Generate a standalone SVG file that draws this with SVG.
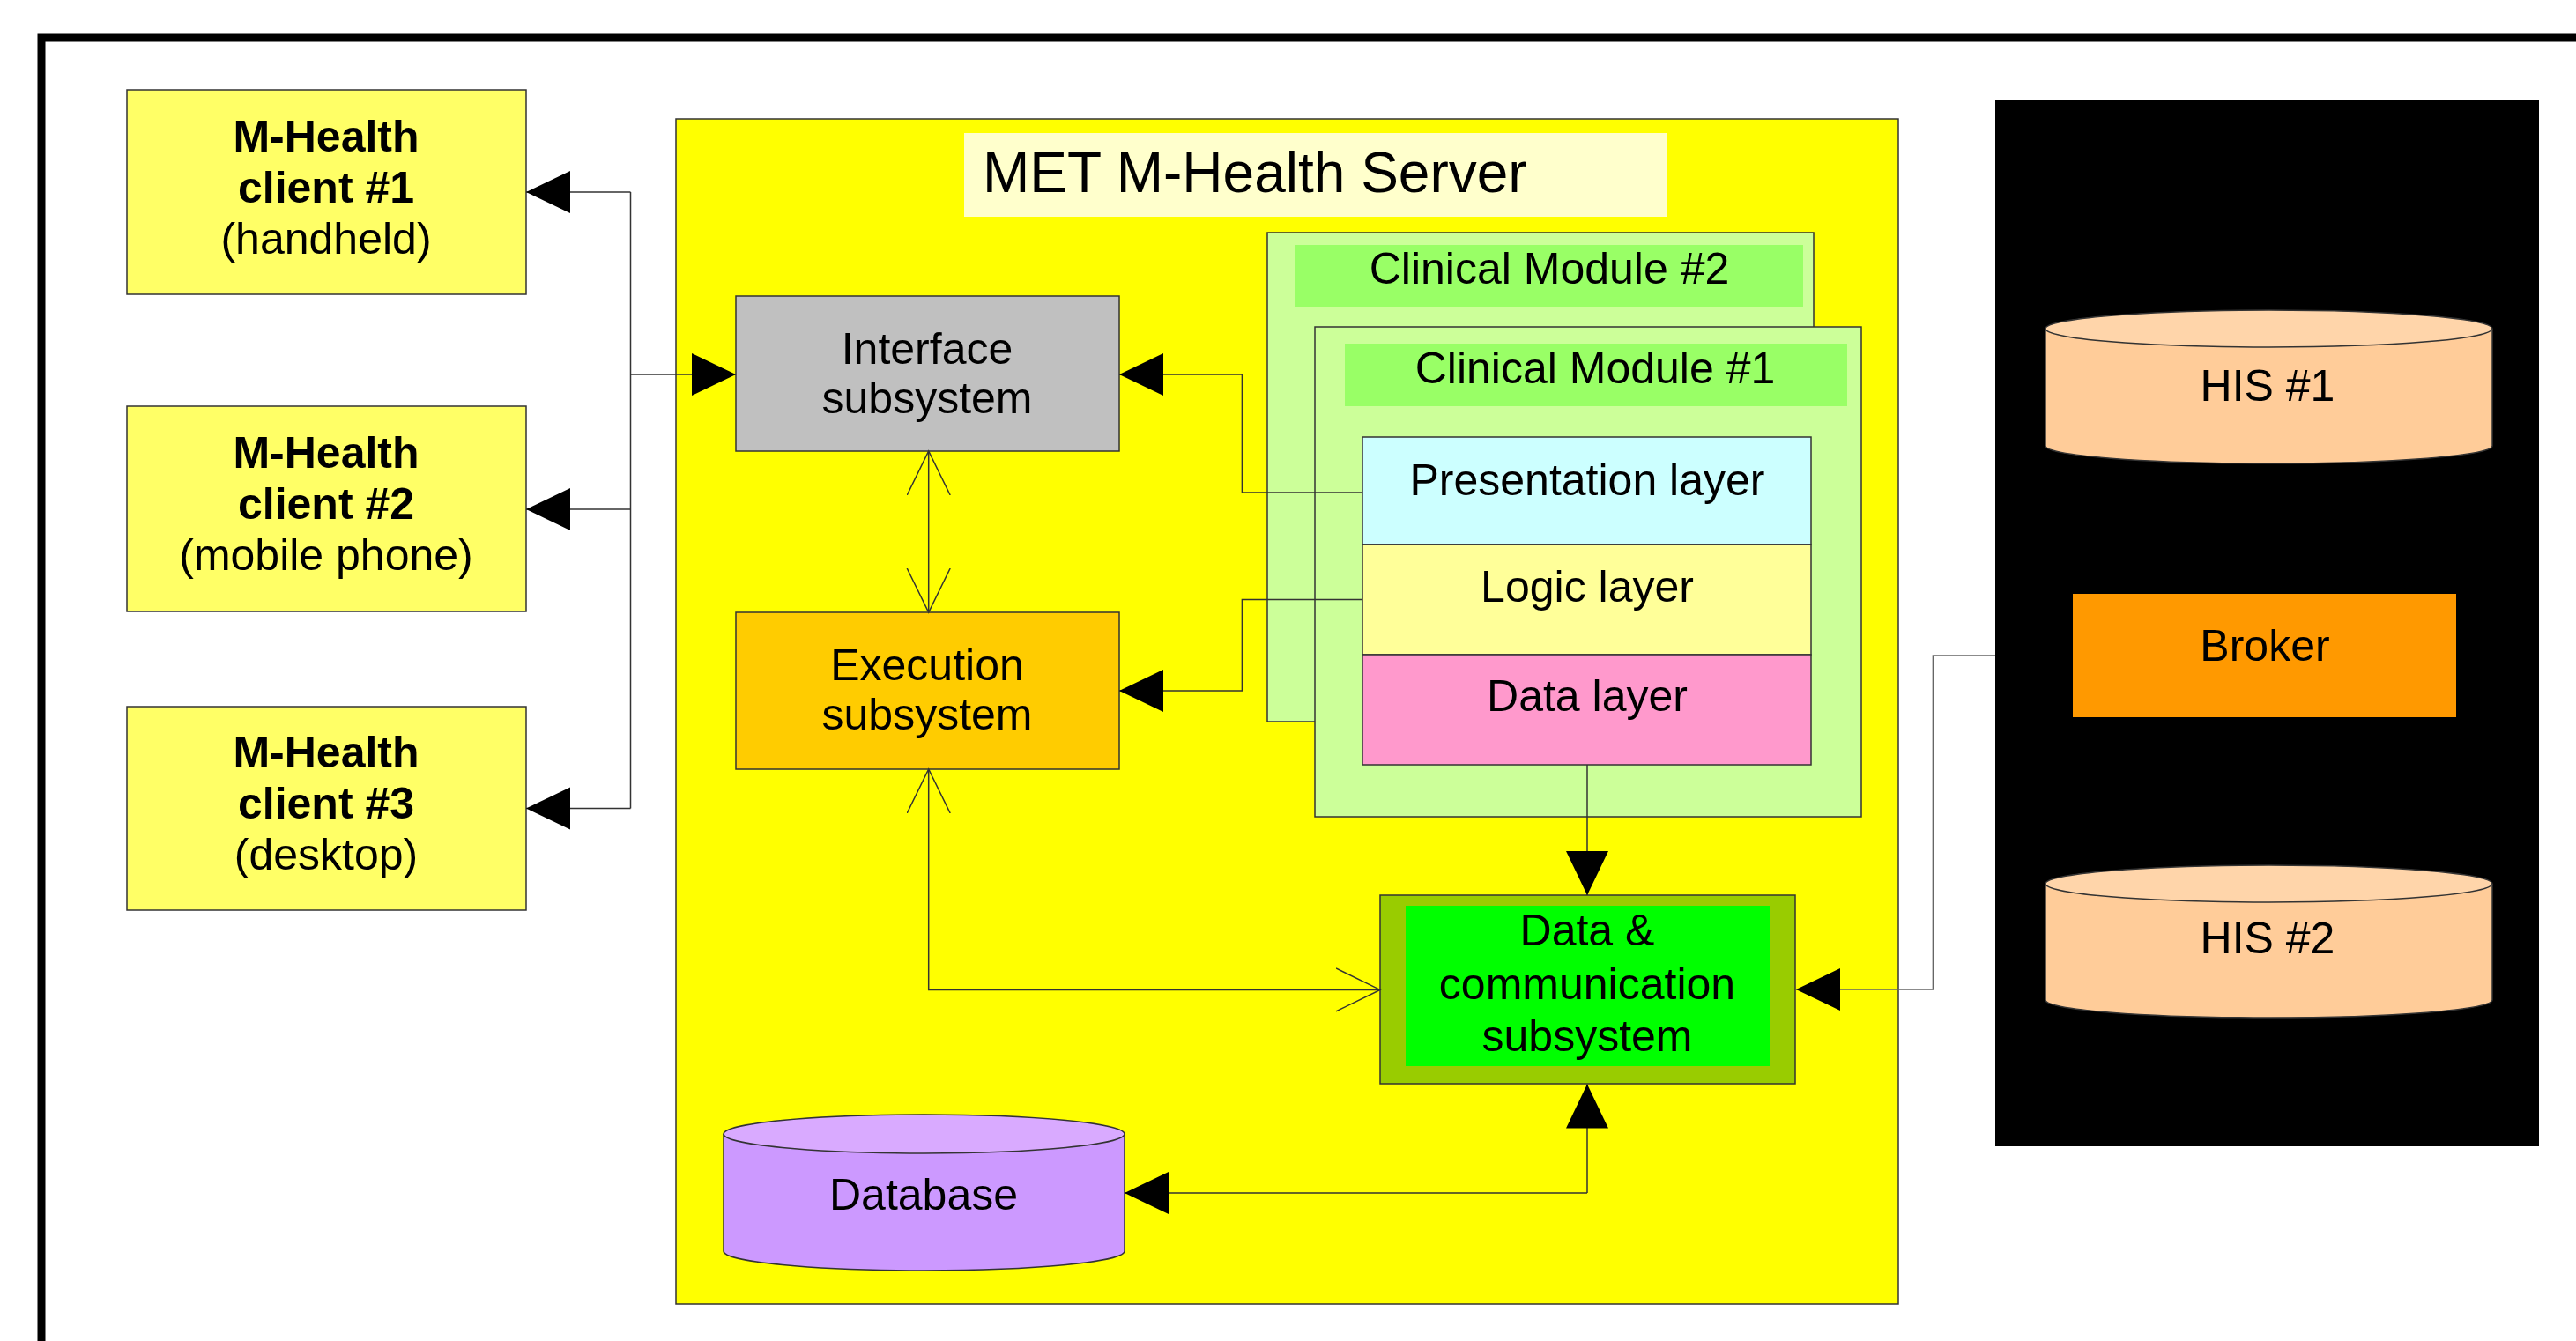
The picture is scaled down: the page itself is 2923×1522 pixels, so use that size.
<svg xmlns="http://www.w3.org/2000/svg" width="2923" height="1522" viewBox="0 0 2923 1522">
<defs>
<style>
text{font-family:"Liberation Sans",Arial,sans-serif;font-size:50px;fill:#000;text-anchor:middle}
.b{font-weight:bold}
.box{stroke:#333;stroke-width:1.5}
.ln{fill:none;stroke:#333;stroke-width:1.5}
.fa{marker-end:url(#fill)}
.oa{marker-end:url(#open);marker-start:url(#open)}
</style>
<marker id="fill" markerUnits="userSpaceOnUse" markerWidth="52" markerHeight="50" refX="50" refY="24" orient="auto-start-reverse" viewBox="0 0 52 50">
<path d="M0,0 L50,24 L0,48 Z" fill="#000"/>
</marker>
<marker id="open" markerUnits="userSpaceOnUse" markerWidth="54" markerHeight="52" refX="50" refY="25" orient="auto-start-reverse" viewBox="0 0 54 52">
<path d="M0,0.5 L50,25 L0,49.5" fill="none" stroke="#333" stroke-width="1.5"/>
</marker>
</defs>
<rect width="2923" height="1522" fill="#fff"/>
<path d="M47,1522 V43 H2923" fill="none" stroke="#000" stroke-width="9"/>

<g id="client1"><rect class="box" x="144" y="102" width="453" height="232" fill="#ffff66"/>
<text class="b" x="370" y="172">M-Health</text><text class="b" x="370" y="230">client #1</text><text x="370" y="288">(handheld)</text></g>
<g id="client2"><rect class="box" x="144" y="461" width="453" height="233" fill="#ffff66"/>
<text class="b" x="370" y="531">M-Health</text><text class="b" x="370" y="589">client #2</text><text x="370" y="647">(mobile phone)</text></g>
<g id="client3"><rect class="box" x="144" y="802" width="453" height="231" fill="#ffff66"/>
<text class="b" x="370" y="871">M-Health</text><text class="b" x="370" y="929">client #3</text><text x="370" y="987">(desktop)</text></g>

<g id="server"><rect class="box" x="767" y="135" width="1387" height="1345" fill="#ffff00"/>
<rect x="1094" y="151" width="798" height="95" fill="#ffffcc"/>
<text x="1115" y="218" style="font-size:64px;text-anchor:start">MET M-Health Server</text></g>

<g id="interface"><rect class="box" x="835" y="336" width="435" height="176" fill="#c0c0c0"/>
<text x="1052" y="413">Interface</text><text x="1052" y="469">subsystem</text></g>
<g id="execution"><rect class="box" x="835" y="695" width="435" height="178" fill="#ffcc00"/>
<text x="1052" y="772">Execution</text><text x="1052" y="828">subsystem</text></g>

<g id="cm2"><rect class="box" x="1438" y="264" width="620" height="555" fill="#ccff99"/>
<rect x="1470" y="278" width="576" height="70" fill="#99ff66"/>
<text x="1758" y="322">Clinical Module #2</text></g>
<g id="cm1"><rect class="box" x="1492" y="371" width="620" height="556" fill="#ccff99"/>
<rect x="1526" y="390" width="570" height="71" fill="#99ff66"/>
<text x="1810" y="435">Clinical Module #1</text></g>
<g id="presentation"><rect class="box" x="1546" y="496" width="509" height="122" fill="#ccffff"/>
<text x="1801" y="562">Presentation layer</text></g>
<g id="logic"><rect class="box" x="1546" y="618" width="509" height="125" fill="#ffff99"/>
<text x="1801" y="683">Logic layer</text></g>
<g id="datalayer"><rect class="box" x="1546" y="743" width="509" height="125" fill="#ff99cc"/>
<text x="1801" y="807">Data layer</text></g>

<g id="datacomm"><rect class="box" x="1566" y="1016" width="471" height="214" fill="#99cc00"/>
<rect x="1595" y="1028" width="413" height="182" fill="#00ff00"/>
<text x="1801" y="1073">Data &amp;</text><text x="1801" y="1134">communication</text><text x="1801" y="1193">subsystem</text></g>

<g id="database"><path class="box" d="M821,1287 V1420 A227.5,22 0 0 0 1276,1420 V1287" fill="#cc99ff"/>
<ellipse class="box" cx="1048.5" cy="1287" rx="227.5" ry="22" fill="#d9aaff"/>
<text x="1048" y="1373">Database</text></g>

<g id="his-group"><rect x="2264" y="114" width="617" height="1187" fill="#000"/></g>
<g id="his1"><path class="box" d="M2321,373 V506 A253.5,20 0 0 0 2828,506 V373" fill="#ffcc99"/>
<ellipse class="box" cx="2574.5" cy="373" rx="253.5" ry="21" fill="#ffd5aa"/>
<text x="2573" y="455">HIS #1</text></g>
<g id="broker"><rect x="2352" y="674" width="435" height="140" fill="#ff9900"/>
<text x="2570" y="750">Broker</text></g>
<g id="his2"><path class="box" d="M2321,1003 V1135 A253.5,20 0 0 0 2828,1135 V1003" fill="#ffcc99"/>
<ellipse class="box" cx="2574.5" cy="1003" rx="253.5" ry="21" fill="#ffd5aa"/>
<text x="2573" y="1082">HIS #2</text></g>

<g id="connectors">
<path class="ln" d="M715.5,218 V917.5"/>
<path class="ln fa" d="M715.5,425 H835"/>
<path class="ln fa" d="M715.5,218 H597"/>
<path class="ln fa" d="M715.5,578 H597"/>
<path class="ln fa" d="M715.5,917.5 H597"/>
<path class="ln oa" d="M1053.7,512 V695"/>
<path class="ln fa" d="M1546,559 H1409.4 V425 H1270"/>
<path class="ln fa" d="M1546,680.6 H1409.4 V784 H1270"/>
<path class="ln fa" d="M1801,868 V1016"/>
<path class="ln oa" d="M1053.7,873 V1123.4 H1566"/>
<path class="ln fa" d="M1801,1354 V1230.5" />
<path class="ln fa" d="M1801,1354 H1276"/>
<path class="ln fa" d="M2264,744 H2193.4 V1123 H2038" style="stroke:#666"/>
</g>
</svg>
